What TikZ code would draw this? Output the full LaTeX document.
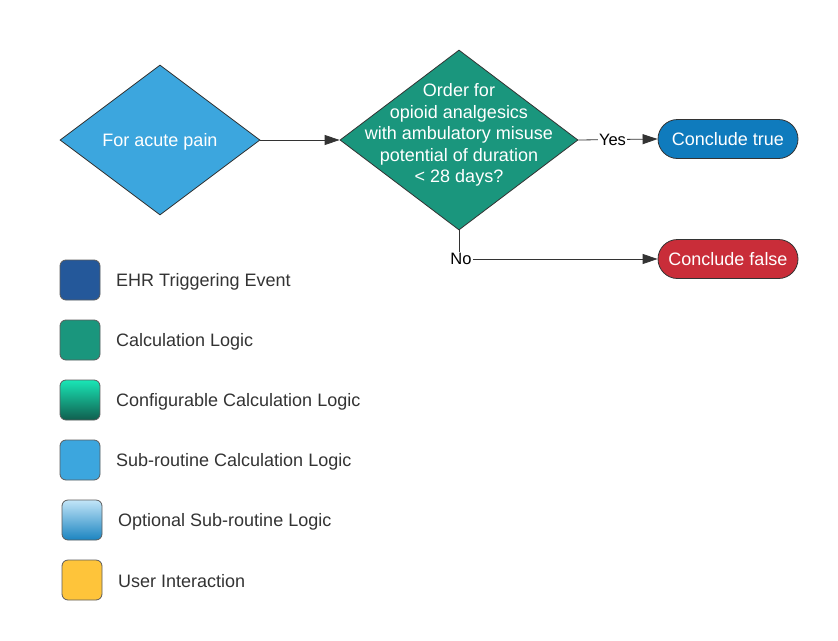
\documentclass[tikz,border=0pt]{standalone}
\usepackage{fontspec}
\setmainfont{Liberation Sans}
\usetikzlibrary{shapes.geometric,shapes.misc,arrows.meta}
\definecolor{lblue}{HTML}{3CA6DE}
\definecolor{tealc}{HTML}{1A967D}
\definecolor{tblue}{HTML}{0F7BBD}
\definecolor{tred}{HTML}{C92D39}
\definecolor{dblue}{HTML}{24589A}
\definecolor{edge}{HTML}{333333}
\definecolor{txt}{HTML}{333333}
\definecolor{cfgtop}{HTML}{19E6B6}
\definecolor{cfgbot}{HTML}{105E4E}
\definecolor{opttop}{HTML}{C2E5F8}
\definecolor{optbot}{HTML}{1B84C0}
\definecolor{yel}{HTML}{FEC43A}
\tikzset{
  big/.style={font=\fontsize{18}{21.5}\selectfont},
  dia/.style={diamond, draw=edge, line width=0.8pt, inner sep=0pt},
  term/.style={rounded rectangle, draw=edge, line width=0.8pt, minimum width=140pt, minimum height=39pt, inner sep=0pt, text=white, big},
  conn/.style={draw=edge, line width=0.8pt, -{Triangle[length=15pt,width=10pt]}},
  elabel/.style={fill=white, inner sep=1pt, text=black, font=\fontsize{16.5}{19}\selectfont},
  leg/.style={rectangle, rounded corners=6pt, draw=edge!80, line width=0.8pt, minimum width=40pt, minimum height=40pt, inner sep=0pt},
  legtext/.style={anchor=west, text=txt, big, inner sep=0pt},
}
\begin{document}
\begin{tikzpicture}[x=1pt,y=-1pt]
\useasboundingbox (0,0) rectangle (838,640);
% diamonds
\node[dia, fill=lblue, minimum width=200pt, minimum height=150pt] (d1) at (160,140) {};
\node[text=white, big] (d1t) at (160,141.5) {For acute pain};
\node[dia, fill=tealc, minimum width=238pt, minimum height=180pt] (d2) at (459,140) {};
\node[text=white, big, align=center, inner sep=0pt] (d2t) at (459,135) {Order for\\opioid analgesics\\with ambulatory misuse\\potential of duration\\< 28 days?};
% terminals
\node[term, fill=tblue] (ct) at (728,139) {Conclude true};
\node[term, fill=tred] (cf) at (728,259) {Conclude false};
% connectors
\draw[conn] (d1.east) -- (d2.west);
\draw[conn] (d2.east) -- node[elabel, pos=0.43] (yes) {Yes} (ct.west);
\draw[conn] (d2.south) |- node[elabel, pos=0.5, xshift=2pt] (no) {No} (cf.west);
% legend
\node[leg, fill=dblue] (l1) at (80,280) {};
\node[legtext] (l1t) at (116,281.5) {EHR Triggering Event};
\node[leg, fill=tealc] (l2) at (80,340) {};
\node[legtext] (l2t) at (116,341.5) {Calculation Logic};
\node[leg, top color=cfgtop, bottom color=cfgbot, draw=edge!80] (l3) at (80,400) {};
\node[legtext] (l3t) at (116,401.5) {Configurable Calculation Logic};
\node[leg, fill=lblue] (l4) at (80,460) {};
\node[legtext] (l4t) at (116,461.5) {Sub-routine Calculation Logic};
\node[leg, top color=opttop, bottom color=optbot, draw=edge!80] (l5) at (82,520) {};
\node[legtext] (l5t) at (118,521.5) {Optional Sub-routine Logic};
\node[leg, fill=yel] (l6) at (82,580) {};
\node[legtext] (l6t) at (118,581.5) {User Interaction};
\end{tikzpicture}
\end{document}
